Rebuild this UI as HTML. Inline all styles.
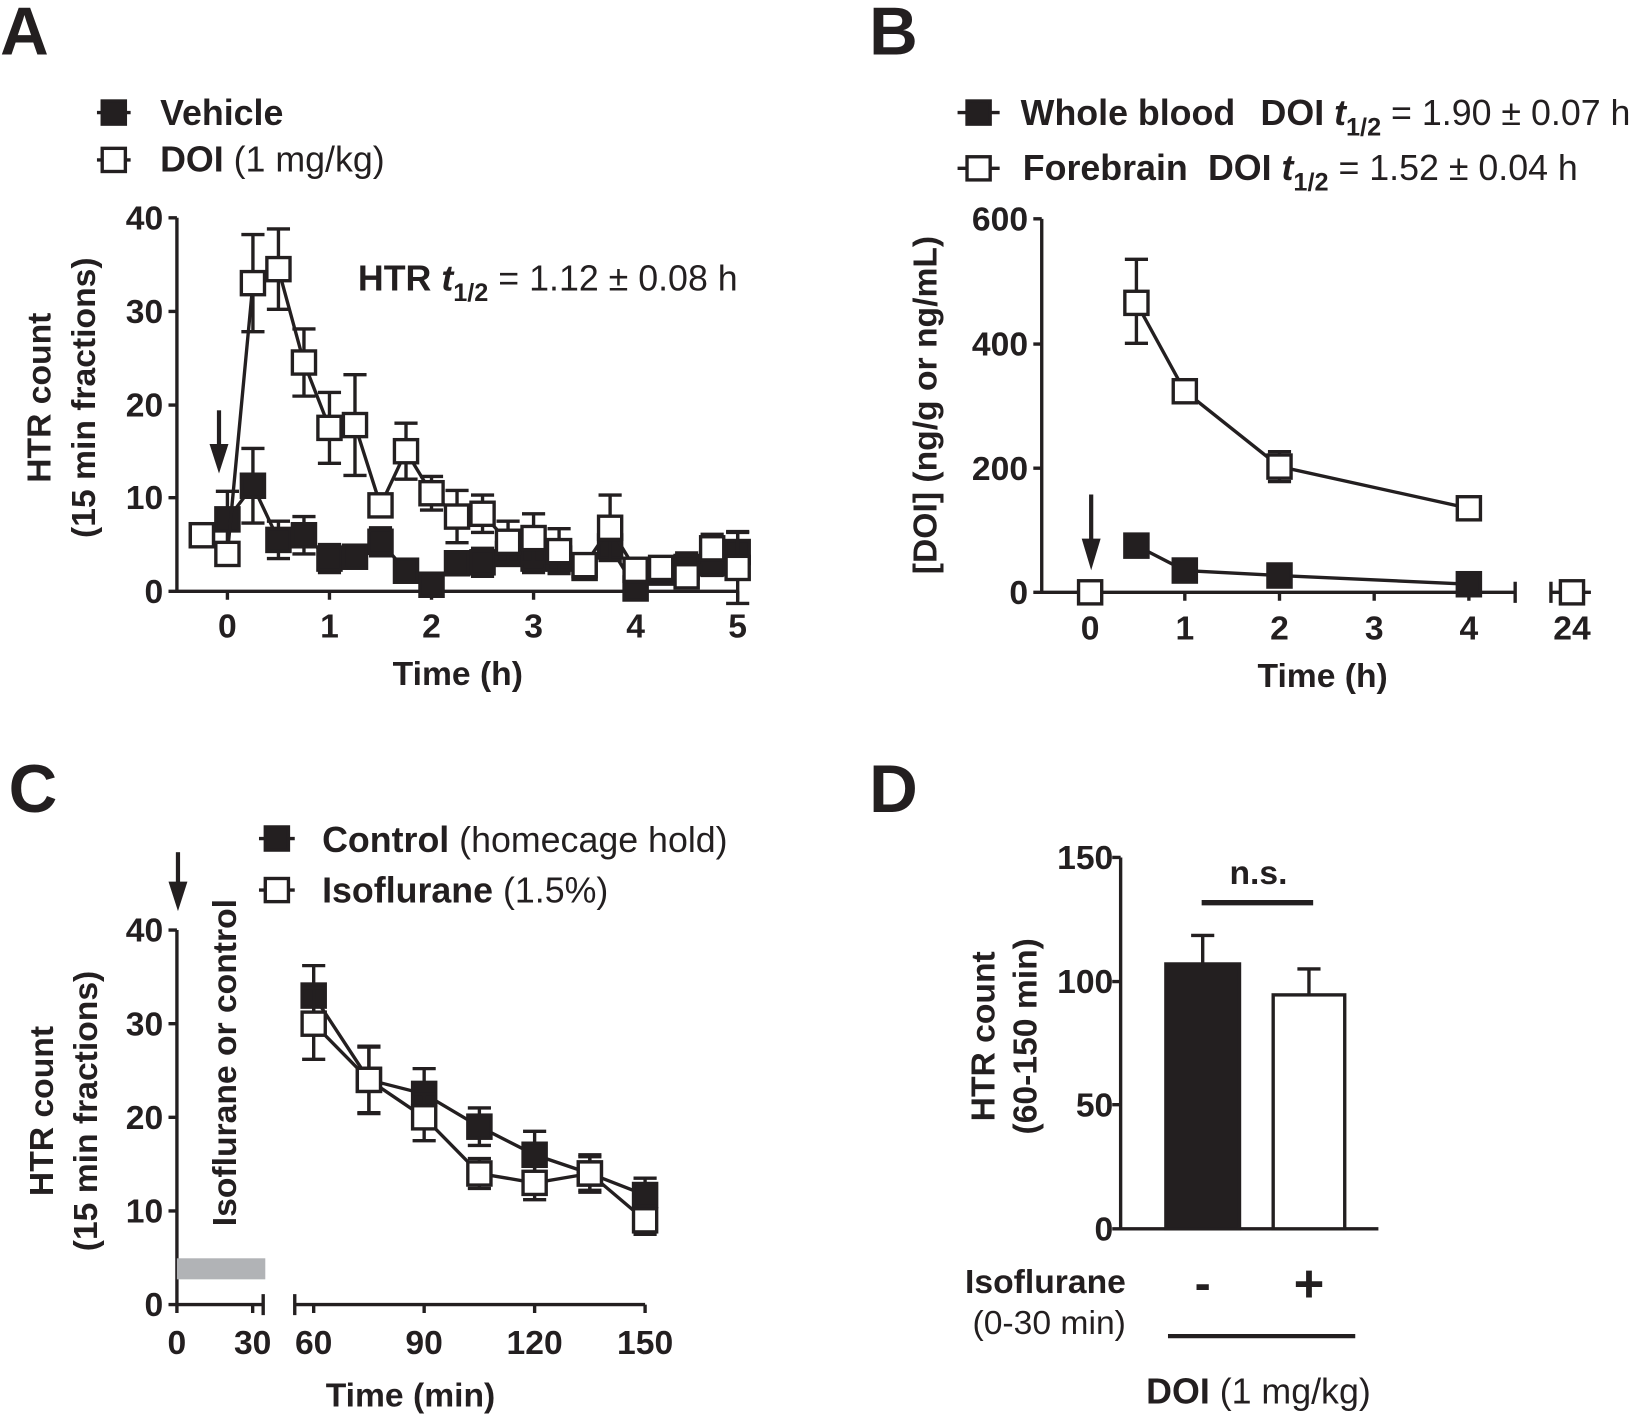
<!DOCTYPE html>
<html><head><meta charset="utf-8"><style>
html,body{margin:0;padding:0;background:#fff}
svg{display:block}
text{font-family:"Liberation Sans",Arial,sans-serif;fill:#231f20}
.b{font-weight:bold}
.t{font-size:32px;font-weight:bold}
.l{font-size:34px;font-weight:bold}
</style></head><body>
<svg id="s" width="1650" height="1414" viewBox="0 0 1568 1344" xmlns="http://www.w3.org/2000/svg">
<g stroke="#231f20" stroke-width="3.2" fill="none" id="axes">
<path d="M168,207V562H701M160,207h8M160,296h8M160,385h8M160,473h8M160,562h8M216,562v8M313,562v8M410,562v8M507,562v8M604,562v8M701,562v8"/>
<path d="M990,208V563H1440M982,208h8M982,327h8M982,445h8M982,563h8M1036,563v8M1126,563v8M1216,563v8M1306,563v8M1396,563v8M1440,553v20M1474,553v20M1474,563H1512M1494,563v8"/>
<path d="M168,884V1240H250M160,884h8M160,973h8M160,1062h8M160,1151h8M160,1240h8M168,1240v8M240,1240v8M250,1230v20M280,1230v20M280,1240H613M298,1240v8M403,1240v8M508,1240v8M613,1240v8"/>
<path d="M1065,815V1168H1310M1057,815h8M1057,933h8M1057,1050h8M1057,1168h8"/>
</g>
<g id="data"></g>
<text x="0" y="52" class="b" font-size="64">A</text>
<text x="826" y="52" class="b" font-size="64">B</text>
<text x="8" y="772" class="b" font-size="64">C</text>
<text x="826" y="772" class="b" font-size="64">D</text>
<text x="152" y="119" class="l">Vehicle</text>
<text x="152" y="163" class="l">DOI <tspan font-weight="normal">(1 mg/kg)</tspan></text>
<text x="340" y="276" class="l">HTR <tspan font-style="italic">t</tspan><tspan font-size="24" dy="10">1/2</tspan><tspan dy="-10" font-weight="normal"> = 1.12 ± 0.08 h</tspan></text>
<g class="t" text-anchor="end"><text x="155" y="218">40</text><text x="155" y="307">30</text><text x="155" y="396">20</text><text x="155" y="484">10</text><text x="155" y="573">0</text></g>
<g class="t" text-anchor="middle"><text x="216" y="606">0</text><text x="313" y="606">1</text><text x="410" y="606">2</text><text x="507" y="606">3</text><text x="604" y="606">4</text><text x="701" y="606">5</text>
<text x="435" y="651">Time (h)</text></g>
<text class="t" text-anchor="middle" transform="translate(48,378) rotate(-90)">HTR count</text>
<text class="t" text-anchor="middle" transform="translate(90,378) rotate(-90)">(15 min fractions)</text>
<text x="970" y="119" class="l">Whole blood</text>
<text x="1198" y="119" class="l">DOI <tspan font-style="italic">t</tspan><tspan font-size="24" dy="10">1/2</tspan><tspan dy="-10" font-weight="normal"> = 1.90 ± 0.07 h</tspan></text>
<text x="972" y="171" class="l">Forebrain</text>
<text x="1148" y="171" class="l">DOI <tspan font-style="italic">t</tspan><tspan font-size="24" dy="10">1/2</tspan><tspan dy="-10" font-weight="normal"> = 1.52 ± 0.04 h</tspan></text>
<g class="t" text-anchor="end"><text x="977" y="219">600</text><text x="977" y="338">400</text><text x="977" y="456">200</text><text x="977" y="574">0</text></g>
<g class="t" text-anchor="middle"><text x="1036" y="608">0</text><text x="1126" y="608">1</text><text x="1216" y="608">2</text><text x="1306" y="608">3</text><text x="1396" y="608">4</text><text x="1494" y="608">24</text>
<text x="1257" y="653">Time (h)</text></g>
<text class="t" text-anchor="middle" transform="translate(890,385) rotate(-90)">[DOI] (ng/g or ng/mL)</text>
<text x="306" y="810" class="l">Control <tspan font-weight="normal">(homecage hold)</tspan></text>
<text x="306" y="858" class="l">Isoflurane <tspan font-weight="normal">(1.5%)</tspan></text>
<g class="t" text-anchor="end"><text x="155" y="895">40</text><text x="155" y="984">30</text><text x="155" y="1073">20</text><text x="155" y="1162">10</text><text x="155" y="1251">0</text></g>
<g class="t" text-anchor="middle"><text x="168" y="1287">0</text><text x="240" y="1287">30</text><text x="298" y="1287">60</text><text x="403" y="1287">90</text><text x="508" y="1287">120</text><text x="613" y="1287">150</text>
<text x="390" y="1337">Time (min)</text></g>
<text class="t" text-anchor="middle" transform="translate(50,1056) rotate(-90)">HTR count</text>
<text class="t" text-anchor="middle" transform="translate(92,1056) rotate(-90)">(15 min fractions)</text>
<text class="t" text-anchor="middle" transform="translate(224,1010) rotate(-90)">Isoflurane or control</text>
<rect x="168" y="1196" width="84" height="20" fill="#b1b3b6"/>
<g class="t" text-anchor="end"><text x="1058" y="826">150</text><text x="1058" y="944">100</text><text x="1058" y="1061">50</text><text x="1058" y="1179">0</text></g>
<text class="t" text-anchor="middle" transform="translate(945,985) rotate(-90)">HTR count</text>
<text class="t" text-anchor="middle" transform="translate(985,985) rotate(-90)">(60-150 min)</text>
<text x="1196" y="840" class="t" text-anchor="middle">n.s.</text>
<text x="1070" y="1229" class="t" text-anchor="end">Isoflurane</text>
<text x="1070" y="1268" font-size="32" text-anchor="end">(0-30 min)</text>
<text x="1196" y="1334" class="l" text-anchor="middle">DOI <tspan font-weight="normal">(1 mg/kg)</tspan></text>
<text x="1143" y="1235" class="b" font-size="46" text-anchor="middle">-</text>
<text x="1244" y="1237" class="b" font-size="50" text-anchor="middle">+</text>
</svg>
<script>
var g=document.getElementById('data'),NS='http://www.w3.org/2000/svg';
function el(n,a){var e=document.createElementNS(NS,n);for(var k in a)e.setAttribute(k,a[k]);g.appendChild(e);return e;}
var K='#231f20';
function line(pts){el('polyline',{points:pts.map(p=>p.join(',')).join(' '),fill:'none',stroke:K,'stroke-width':3.2});}
function err(x,y1,y2){el('path',{d:'M'+x+','+y1+'V'+y2+'M'+(x-11)+','+y2+'h22',stroke:K,'stroke-width':3.2,fill:'none'});}
function sq(x,y,open,s){s=s||22;el('rect',{x:x-s/2,y:y-s/2,width:s,height:s,fill:open?'#fff':K,stroke:K,'stroke-width':3.2});}
function series(xs,ys,es,X,Y,open){var pts=xs.map((t,i)=>[X(t),Y(ys[i])]);line(pts);
 xs.forEach((t,i)=>{if(es[i]){err(X(t),Y(ys[i]),Y(ys[i]+es[i]));err(X(t),Y(ys[i]),Y(ys[i]-es[i]));}});
 pts.forEach(p=>sq(p[0],p[1],open));}
var AX=t=>216+97*t,AY=v=>562-8.875*v;
var ta=[-0.25,0,0.25,0.5,0.75,1,1.25,1.5,1.75,2,2.25,2.5,2.75,3,3.25,3.5,3.75,4,4.25,4.5,4.75,5];
series(ta,[6,7.7,11.3,5.5,6,3.5,3.7,5.3,2.2,0.7,3,3.1,4,3.5,3.5,2.5,4.8,0.3,2,2.6,3,4.2],[0,3,4,2,2,1.5,0,1.5,1.2,0,1,1.5,1,1.5,1.3,0,1.5,0,1,1.5,1.3,2.2],AX,AY,false);
series(ta,[6,4,33,34.5,24.5,17.5,17.8,9.2,15,10.5,8,8.3,5.3,5.7,4.3,2.8,6.8,2.3,2.5,1.6,4.6,2.5],[0,0,5.2,4.3,3.6,3.8,5.4,0,3,1.8,2.8,2,2.2,2.6,2.4,1.2,3.5,0,1.2,0,1.5,3.8],AX,AY,true);
el('path',{d:'M208,390V430',stroke:K,'stroke-width':4});el('path',{d:'M199,422L208,450L217,422Z',fill:K});
el('path',{d:'M92,107h32',stroke:K,'stroke-width':3.2});sq(108,107,false);
el('path',{d:'M92,152h32',stroke:K,'stroke-width':3.2});sq(108,152,true);
var BX=t=>1036+90*t,BY=v=>563-0.5917*v;
line([[1080,BY(75)],[BX(1),BY(35)],[BX(2),BY(27)],[BX(4),BY(13)]]);
[[1080,75],[BX(1),35],[BX(2),27],[BX(4),13]].forEach(p=>sq(p[0],BY(p[1]),false));
line([[1080,BY(465)],[BX(1),BY(323)],[BX(2),BY(202)],[BX(4),BY(135)]]);
err(1080,BY(465),BY(535));err(1080,BY(465),BY(400));err(BX(2),BY(202),BY(226));err(BX(2),BY(202),BY(178));
[[1080,465],[BX(1),323],[BX(2),202],[BX(4),135]].forEach(p=>sq(p[0],BY(p[1]),true));
sq(1036,563,true);sq(1494,563,true);
el('path',{d:'M1037,470V520',stroke:K,'stroke-width':4});el('path',{d:'M1028,512L1037,542L1046,512Z',fill:K});
el('path',{d:'M910,107h40',stroke:K,'stroke-width':3.2});sq(930,107,false);
el('path',{d:'M910,160h40',stroke:K,'stroke-width':3.2});sq(930,160,true);
var CX=m=>298+3.5*(m-60),CY=v=>1240-8.9*v;
var tc=[60,75,90,105,120,135,150];
series(tc,[33,24,22.5,19,16,14,11.7],[3.2,3.6,2.7,2,2.5,2,1.8],CX,CY,false);
series(tc,[30,24,20,14,13,14,9],[3.8,3.5,2.5,1.6,1.8,1.8,1.5],CX,CY,true);
el('path',{d:'M169,810V845',stroke:K,'stroke-width':4});el('path',{d:'M160,838L169,866L178,838Z',fill:K});
el('path',{d:'M246,797h34',stroke:K,'stroke-width':3.2});sq(263,797,false);
el('path',{d:'M246,846h34',stroke:K,'stroke-width':3.2});sq(263,846,true);
var DY=v=>1168-2.353*v;
el('rect',{x:1108,y:DY(107),width:70,height:1168-DY(107),fill:K,stroke:K,'stroke-width':3.2});
el('rect',{x:1210,y:DY(94.5),width:68,height:1168-DY(94.5),fill:'#fff',stroke:K,'stroke-width':3.2});
err(1143,DY(107),DY(118.5));err(1244,DY(94.5),DY(105));
el('path',{d:'M1142,858H1248',stroke:K,'stroke-width':5});
el('path',{d:'M1110,1270H1288',stroke:K,'stroke-width':4});
</script>
</body></html>
